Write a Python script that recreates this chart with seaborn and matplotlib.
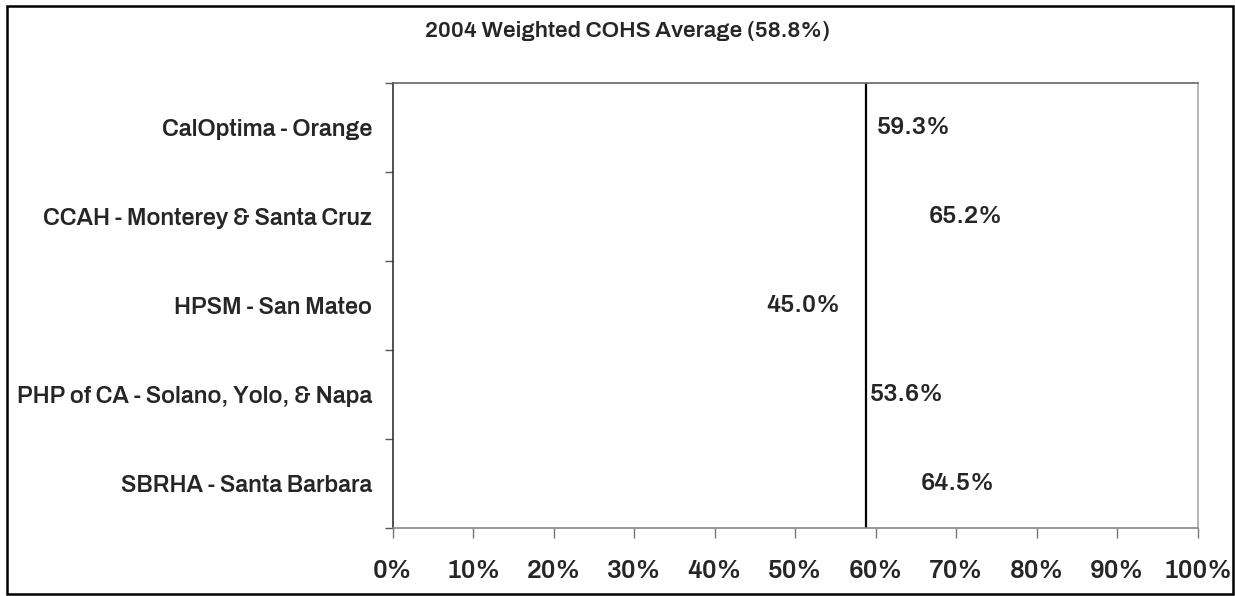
import matplotlib
matplotlib.use('Agg')
import matplotlib.pyplot as plt
import seaborn as sns
import pandas as pd
import numpy as np
from matplotlib.patches import Rectangle
from matplotlib.ticker import FixedLocator

# Chart data
plans = ['CalOptima - Orange', 'CCAH - Monterey & Santa Cruz', 'HPSM - San Mateo',
         'PHP of CA - Solano, Yolo, & Napa', 'SBRHA - Santa Barbara']
rates = [59.3, 65.2, 45.0, 53.6, 64.5]
weighted_avg = 58.8
title = '2004 Weighted COHS Average (58.8%)'

# label offset from bar end, in points (Excel placed them unevenly)
label_pad = [5, 8, 8, 33, 6]

df = pd.DataFrame({'plan': plans, 'rate': rates})

sns.set_style('white')
plt.rcParams['font.family'] = ['Archivo', 'Roboto', 'DejaVu Sans']
plt.rcParams['font.weight'] = 600

fig = plt.figure(figsize=(12.35, 5.96), dpi=100)
ax = fig.add_axes([0.318, 0.1141, 0.652, 0.7466])

# bars are drawn in white so only the value labels show
sns.barplot(data=df, x='rate', y='plan', color='white', orient='h', ax=ax,
            width=0.5, saturation=1, edgecolor='none')
for bar, v, pad in zip(ax.patches, rates, label_pad):
    ax.annotate(f'{v:.1f}%', (bar.get_width(), bar.get_y() + bar.get_height() / 2),
                xytext=(pad, 0), textcoords='offset points', ha='left', va='center',
                fontsize=17.8, fontweight=600)

ax.axvline(weighted_avg, color='black', linewidth=1.6)

ax.set_xlim(0, 100)
ax.set_ylim(len(plans) - 0.5, -0.5)
ax.set_xticks(np.arange(0, 101, 10))
ax.set_xticklabels([f'{t}%' for t in range(0, 101, 10)])
ax.yaxis.set_minor_locator(FixedLocator(np.arange(-0.5, len(plans), 1)))
ax.tick_params(axis='x', length=7, width=1, color='#777777', pad=15,
               labelsize=18.5, direction='out', bottom=True)
ax.tick_params(axis='y', which='major', length=0, pad=15, labelsize=16.8, left=True)
ax.tick_params(axis='y', which='minor', length=6, width=1, color='#555555',
               direction='out', left=True)
for lbl in ax.get_xticklabels() + ax.get_yticklabels():
    lbl.set_fontweight(600)
ax.set_xlabel('')
ax.set_ylabel('')

ax.spines['left'].set_color('#333333')
ax.spines['top'].set_color('#666666')
ax.spines['bottom'].set_color('#888888')
ax.spines['right'].set_color('#aaaaaa')
for s in ax.spines.values():
    s.set_linewidth(1.2)
    s.set_visible(True)

fig.text(0.508, 0.948, title, ha='center', va='center', fontsize=16.2, fontweight=600)

fig.patches.append(Rectangle((7 / 1235, 2 / 596), 1226 / 1235, 588 / 596,
                             transform=fig.transFigure, fill=False,
                             edgecolor='black', linewidth=1.8))

fig.savefig('out.png', dpi=100)
